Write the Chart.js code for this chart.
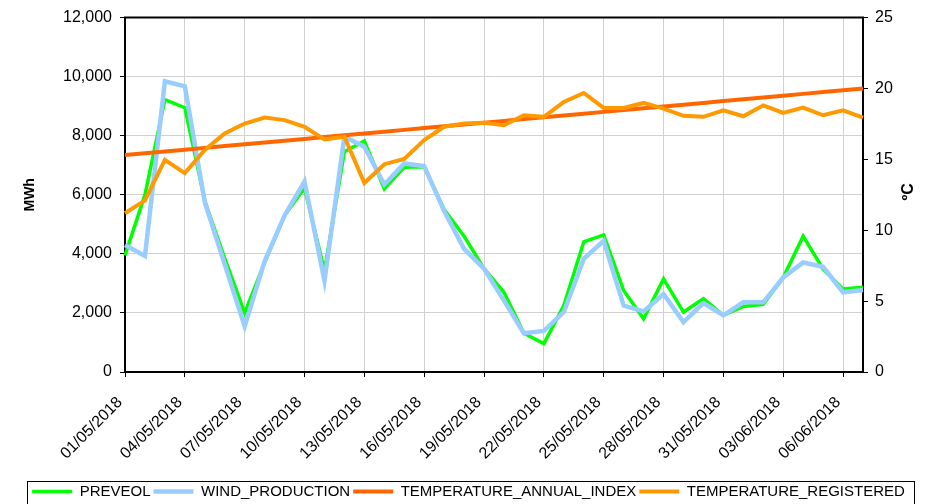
<!DOCTYPE html>
<html>
<head>
<meta charset="utf-8">
<script src="https://cdn.jsdelivr.net/npm/chart.js@4/dist/chart.umd.min.js"></script>
<style>
  html, body { margin: 0; padding: 0; background: #fff; }
  #wrap { width: 937px; height: 504px; }
</style>
</head>
<body>
<div id="wrap"><canvas id="chart"></canvas></div>
<script>
// giorni (asse orizzontale)
var days = [
  '01/05/2018', '02/05/2018', '03/05/2018', '04/05/2018', '05/05/2018', '06/05/2018', '07/05/2018',
  '08/05/2018', '09/05/2018', '10/05/2018', '11/05/2018', '12/05/2018', '13/05/2018', '14/05/2018',
  '15/05/2018', '16/05/2018', '17/05/2018', '18/05/2018', '19/05/2018', '20/05/2018', '21/05/2018',
  '22/05/2018', '23/05/2018', '24/05/2018', '25/05/2018', '26/05/2018', '27/05/2018', '28/05/2018',
  '29/05/2018', '30/05/2018', '31/05/2018', '01/06/2018', '02/06/2018', '03/06/2018', '04/06/2018',
  '05/06/2018', '06/06/2018', '07/06/2018'
];

// MWh
var preveol = [3950, 6000, 9220, 8950, 5800, 3850, 2000, 3700, 5300, 6230, 3430, 7460, 7820, 6200,
  6930, 6950, 5500, 4600, 3500, 2700, 1310, 960, 2250, 4410, 4640, 2760, 1800, 3150,
  2030, 2480, 1920, 2220, 2290, 3200, 4600, 3480, 2810, 2870];
var windProduction = [4300, 3930, 9840, 9670, 5750, 3650, 1550, 3750, 5300, 6450, 3090, 7970, 7630, 6350,
  7060, 6970, 5450, 4170, 3500, 2420, 1310, 1390, 2030, 3830, 4440, 2250, 2050, 2640,
  1690, 2330, 1920, 2360, 2360, 3200, 3710, 3560, 2700, 2780];

// ºC
var temperatureIndex = [15.30, 15.43, 15.55, 15.68, 15.81, 15.94, 16.06, 16.19, 16.32, 16.44, 16.57, 16.70,
  16.82, 16.95, 17.08, 17.21, 17.33, 17.46, 17.59, 17.71, 17.84, 17.97, 18.09, 18.22,
  18.35, 18.48, 18.60, 18.73, 18.86, 18.98, 19.11, 19.24, 19.36, 19.49, 19.62, 19.75,
  19.87, 20.00];
var temperatureRegistered = [11.2, 12.1, 14.96, 14.03, 15.66, 16.83, 17.53, 17.95, 17.77, 17.3, 16.41, 16.6,
  13.33, 14.66, 15.03, 16.36, 17.3, 17.53, 17.58, 17.41, 18.11, 18.0, 19.05, 19.68,
  18.63, 18.63, 18.98, 18.58, 18.07, 18.0, 18.46, 18.04, 18.81, 18.28, 18.65, 18.11,
  18.46, 17.95];

var FONT = '"Liberation Sans", Arial, sans-serif';
var GRID = '#d0d0d0';

// linea superiore del riquadro, cornice della legenda e titolo ºC
var framePlugin = {
  id: 'frame',
  afterDraw: function (chart) {
    var ctx = chart.ctx;
    var a = chart.chartArea;
    var legend = chart.legend;
    ctx.save();
    ctx.strokeStyle = '#000';
    ctx.lineWidth = 2;
    ctx.beginPath();
    ctx.moveTo(a.left - 1, a.top);
    ctx.lineTo(a.right + 1, a.top);
    ctx.stroke();

    var boxes = legend.legendHitBoxes;
    var last = boxes[boxes.length - 1];
    var l = Math.round(boxes[0].left - 5) + 0.5;
    var r = Math.round(last.left + last.width + 9) + 0.5;
    ctx.lineWidth = 1;
    ctx.strokeRect(l, Math.round(legend.top) + 0.5, r - l, 40);

    ctx.translate(chart.scales.y1.right - 28, (a.top + a.bottom) / 2 - 3);
    ctx.rotate(-Math.PI / 2);
    ctx.font = 'bold 16px ' + FONT;
    ctx.fillStyle = '#000';
    ctx.textAlign = 'center';
    ctx.textBaseline = 'middle';
    ctx.fillText('ºC', 0, 0);
    ctx.restore();
  }
};

function line(label, data, color, width, axis, order) {
  return {
    label: label,
    data: data,
    borderColor: color,
    backgroundColor: color,
    borderWidth: width,
    pointRadius: 0,
    tension: 0,
    fill: false,
    yAxisID: axis,
    order: order
  };
}

new Chart(document.getElementById('chart'), {
  type: 'line',
  data: {
    labels: days,
    datasets: [
      line('PREVEOL', preveol, '#00ff00', 3.5, 'y', 4),
      line('WIND_PRODUCTION', windProduction, '#99ccff', 4.5, 'y', 3),
      line('TEMPERATURE_ANNUAL_INDEX', temperatureIndex, '#ff6600', 4, 'y1', 2),
      line('TEMPERATURE_REGISTERED', temperatureRegistered, '#ff9900', 4, 'y1', 1)
    ]
  },
  options: {
    responsive: true,
    maintainAspectRatio: false,
    animation: false,
    devicePixelRatio: 1,
    layout: { padding: { top: 15, left: 0, right: 0, bottom: 0 } },
    plugins: {
      tooltip: { enabled: false },
      legend: {
        position: 'bottom',
        maxHeight: 23,
        labels: {
          font: { family: FONT, size: 15 },
          color: '#000',
          usePointStyle: true,
          pointStyle: 'line',
          pointStyleWidth: 40,
          padding: 3,
          sort: function (a, b) { return a.datasetIndex - b.datasetIndex; }
        }
      }
    },
    scales: {
      x: {
        ticks: {
          autoSkip: false,
          minRotation: 45,
          maxRotation: 45,
          font: { family: FONT, size: 16 },
          color: '#000',
          padding: 16,
          labelOffset: -5,
          callback: function (val, idx) {
            return idx % 3 === 0 ? this.getLabelForValue(val) : null;
          }
        },
        grid: { color: GRID, tickColor: '#000', tickLength: 5 },
        border: { color: '#000', width: 2 },
        afterFit: function (scale) {
          scale.height = scale.chart.height - 372 - scale.chart.legend.height;
        }
      },
      y: {
        position: 'left',
        min: 0,
        max: 12000,
        ticks: {
          stepSize: 2000,
          font: { family: FONT, size: 16 },
          color: '#000',
          padding: 8,
          callback: function (v) { return v.toLocaleString('en-US'); }
        },
        grid: { color: GRID, tickColor: '#000', tickLength: 5 },
        border: { color: '#000', width: 2 },
        title: {
          display: true,
          text: 'MWh',
          color: '#000',
          font: { family: FONT, size: 14, weight: 'bold' },
          padding: { top: 22, bottom: 0 }
        },
        afterFit: function (scale) { scale.width = 125; }
      },
      y1: {
        position: 'right',
        min: 0,
        max: 25,
        ticks: {
          stepSize: 5,
          font: { family: FONT, size: 16 },
          color: '#000',
          padding: 7
        },
        grid: { drawOnChartArea: false, tickColor: '#000', tickLength: 5 },
        border: { color: '#000', width: 2 },
        afterFit: function (scale) { scale.width = 74; }
      }
    }
  },
  plugins: [framePlugin]
});
</script>
</body>
</html>
